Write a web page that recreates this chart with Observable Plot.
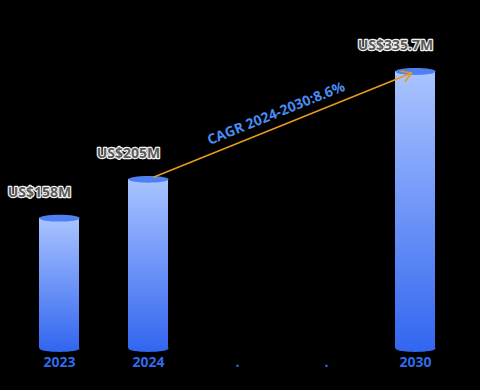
<!DOCTYPE html>
<html>
<head>
<meta charset="utf-8">
<script src="https://cdn.jsdelivr.net/npm/d3@7"></script>
<script src="https://cdn.jsdelivr.net/npm/@observablehq/plot@0.6"></script>
<style>
  html, body { margin: 0; padding: 0; background: #000; }
  #chart svg { display: block; }
</style>
</head>
<body>
<div id="chart"></div>
<script>
const categories = ["2023", "2024", "gap1", "gap2", "2030"];
const years = ["2023", "2024", "2030"];
const values = [158, 205, 335.7];
const labels = ["US$158M", "US$205M", "US$335.7M"];
const cagrText = "CAGR 2024-2030:8.6%";
const cagrFrom = "2024";
const cagrTo = "2030";

const data = years.map((y, i) => ({year: y, value: values[i], label: labels[i]}));

const W = 480, H = 390;
const mL = 3, mR = 8, mT = 71, mB = 42;
const xOpts = {domain: categories, paddingInner: 0.55, paddingOuter: 0.4, range: [mL, W - mR]};
const yOpts = {domain: [0, d3.max(values)], range: [H - mB, mT]};

const xs = Plot.scale({x: {type: "band", ...xOpts}});
const ys = Plot.scale({y: {type: "linear", ...yOpts}});
const bw = xs.bandwidth;
const vFrom = values[years.indexOf(cagrFrom)];
const vTo = values[years.indexOf(cagrTo)];
const px1 = xs.apply(cagrFrom) + bw / 2, py1 = ys.apply(vFrom);
const px2 = xs.apply(cagrTo) + bw / 2, py2 = ys.apply(vTo);
const angle = Math.atan2(py2 - py1, px2 - px1) * 180 / Math.PI;

const ellipse = {
  draw(context, size) {
    const rx = Math.sqrt(size / Math.PI);
    const ry = rx * 0.17;
    const k = 0.5523;
    context.moveTo(rx, 0);
    context.bezierCurveTo(rx, ry * k, rx * k, ry, 0, ry);
    context.bezierCurveTo(-rx * k, ry, -rx, ry * k, -rx, 0);
    context.bezierCurveTo(-rx, -ry * k, -rx * k, -ry, 0, -ry);
    context.bezierCurveTo(rx * k, -ry, rx, -ry * k, rx, 0);
    context.closePath();
  }
};

const defs = () => {
  const d = d3.create("svg:defs");
  const g = d.append("linearGradient").attr("id", "cyl").attr("x1", 0).attr("y1", 0).attr("x2", 0).attr("y2", 1);
  g.append("stop").attr("offset", "0%").attr("stop-color", "#aac4ff");
  g.append("stop").attr("offset", "100%").attr("stop-color", "#3467f0");
  return d.node();
};

const font = "'Open Sans', 'Noto Sans', sans-serif";

const chart = Plot.plot({
  width: W,
  height: H,
  marginLeft: mL,
  marginRight: mR,
  marginTop: mT,
  marginBottom: mB,
  style: {background: "#000", fontFamily: font, overflow: "visible"},
  x: {type: "band", ...xOpts, axis: null},
  y: {type: "linear", ...yOpts, axis: null},
  marks: [
    defs,
    Plot.dot(data, {x: "year", y: 0, r: bw / 2, symbol: ellipse, fill: "#3467f0", stroke: "none"}),
    Plot.barY(data, {x: "year", y: "value", fill: "url(#cyl)"}),
    Plot.dot(data, {x: "year", y: "value", r: bw / 2, symbol: ellipse, fill: "#4f80f2", stroke: "none"}),
    Plot.axisX({
      tickSize: 0,
      tickPadding: 9,
      fill: "#2f6cea",
      fontSize: 14,
      fontWeight: "bold",
      tickFormat: d => d.startsWith("gap") ? "." : d
    }),
    Plot.text(data, {
      x: "year", y: "value", text: "label",
      dx: -bw / 2, dy: -26,
      fill: "#5a5a5a", stroke: "#f2f2f2", strokeWidth: 2.4,
      fontSize: 14, fontWeight: "bold"
    }),
    Plot.arrow([{x1: cagrFrom, y1: vFrom, x2: cagrTo, y2: vTo}], {
      x1: "x1", y1: "y1", x2: "x2", y2: "y2",
      stroke: "#e89a1e", strokeWidth: 1.6, headLength: 10, insetStart: 6, insetEnd: 4
    }),
    Plot.text([cagrText], {
      x: () => "gap1", y: () => (vFrom + vTo) / 2,
      text: d => d,
      frameAnchor: "middle",
      dx: (px1 + px2) / 2 - (xs.apply("gap1") + bw / 2) - 6,
      dy: (py1 + py2) / 2 - ys.apply((vFrom + vTo) / 2) - 12,
      rotate: angle,
      fill: "#4a8cf0", fontSize: 14, fontWeight: "bold"
    })
  ]
});

document.getElementById("chart").appendChild(chart);
</script>
</body>
</html>
